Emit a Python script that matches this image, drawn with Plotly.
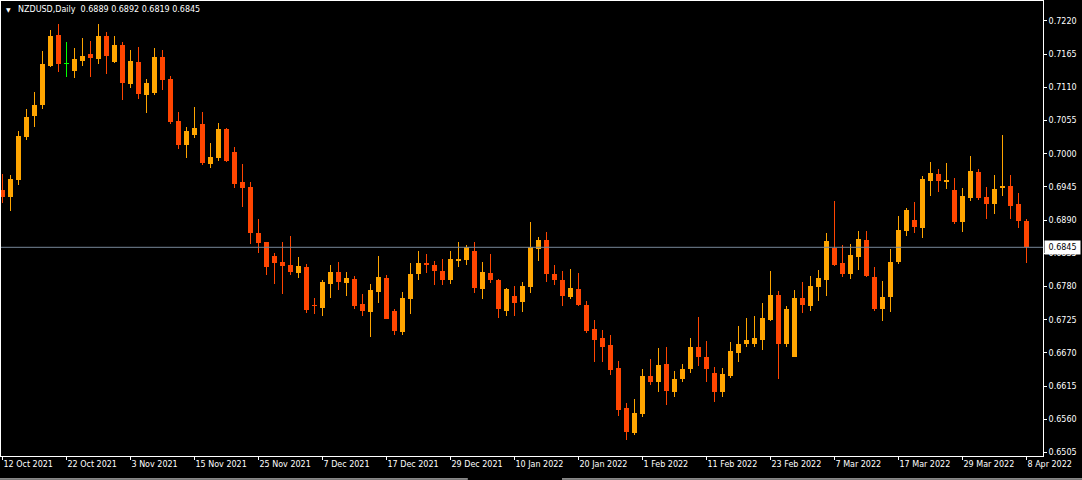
import pandas as pd
import plotly.graph_objects as go

# ---- data (NZDUSD daily) ----
dates = [d.strftime("%Y-%m-%d") for d in pd.bdate_range("2021-10-12", "2022-04-08")]

open_ = [0.6940, 0.6929, 0.6957, 0.7027, 0.7063, 0.7081, 0.7145, 0.7197, 0.7149, 0.7137,
         0.7154, 0.7166, 0.7157, 0.7195, 0.7152, 0.7180, 0.7116, 0.7152, 0.7097, 0.7101,
         0.7160, 0.7124, 0.7054, 0.7015, 0.7031, 0.7049, 0.6983, 0.6993, 0.7041, 0.7003,
         0.6953, 0.6945, 0.6869, 0.6854, 0.6831, 0.6821, 0.6816, 0.6802, 0.6812, 0.6750,
         0.6744, 0.6784, 0.6804, 0.6786, 0.6793, 0.6751, 0.6738, 0.6771, 0.6794, 0.6740,
         0.6705, 0.6760, 0.6800, 0.6819, 0.6816, 0.6806, 0.6791, 0.6823, 0.6824, 0.6839,
         0.6776, 0.6802, 0.6791, 0.6740, 0.6764, 0.6755, 0.6780, 0.6843, 0.6857, 0.6801,
         0.6791, 0.6763, 0.6776, 0.6749, 0.6710, 0.6695, 0.6683, 0.6645, 0.6579, 0.6538,
         0.6569, 0.6632, 0.6622, 0.6652, 0.6606, 0.6626, 0.6644, 0.6680, 0.6663, 0.6637,
         0.6606, 0.6632, 0.6670, 0.6684, 0.6685, 0.6692, 0.6725, 0.6766, 0.6685, 0.6663,
         0.6761, 0.6748, 0.6779, 0.6791, 0.6844, 0.6819, 0.6800, 0.6829, 0.6857, 0.6796,
         0.6742, 0.6763, 0.6820, 0.6872, 0.6890, 0.6877, 0.6955, 0.6967, 0.6954, 0.6940,
         0.6887, 0.6926, 0.6970, 0.6928, 0.6916, 0.6944, 0.6947, 0.6917, 0.6889]

high = [0.6967, 0.6965, 0.7038, 0.7074, 0.7103, 0.7170, 0.7205, 0.7215, 0.7185, 0.7175,
        0.7192, 0.7187, 0.7215, 0.7202, 0.7195, 0.7185, 0.7172, 0.7177, 0.7124, 0.7175,
        0.7172, 0.7129, 0.7069, 0.7044, 0.7078, 0.7069, 0.7018, 0.7051, 0.7043, 0.7011,
        0.6983, 0.6953, 0.6892, 0.6854, 0.6836, 0.6854, 0.6864, 0.6829, 0.6817, 0.6761,
        0.6791, 0.6816, 0.6821, 0.6804, 0.6798, 0.6768, 0.6784, 0.6831, 0.6799, 0.6743,
        0.6771, 0.6819, 0.6839, 0.6834, 0.6822, 0.6826, 0.6839, 0.6854, 0.6849, 0.6854,
        0.6821, 0.6834, 0.6793, 0.6778, 0.6781, 0.6788, 0.6887, 0.6862, 0.6870, 0.6816,
        0.6806, 0.6809, 0.6802, 0.6756, 0.6725, 0.6708, 0.6700, 0.6657, 0.6587, 0.6594,
        0.6643, 0.6660, 0.6678, 0.6680, 0.6640, 0.6652, 0.6695, 0.6730, 0.6690, 0.6647,
        0.6645, 0.6688, 0.6715, 0.6728, 0.6731, 0.6753, 0.6806, 0.6773, 0.6748, 0.6774,
        0.6788, 0.6798, 0.6807, 0.6869, 0.6922, 0.6849, 0.6850, 0.6872, 0.6872, 0.6812,
        0.6789, 0.6842, 0.6897, 0.6910, 0.6920, 0.6963, 0.6986, 0.6975, 0.6985, 0.6960,
        0.6943, 0.6996, 0.6975, 0.6945, 0.6965, 0.7031, 0.6965, 0.6935, 0.6892]

low = [0.6918, 0.6905, 0.6948, 0.7022, 0.7045, 0.7074, 0.7143, 0.7135, 0.7128, 0.7126,
       0.7146, 0.7127, 0.7148, 0.7132, 0.7151, 0.7089, 0.7109, 0.7091, 0.7068, 0.7097,
       0.7106, 0.7049, 0.7008, 0.6993, 0.7026, 0.6981, 0.6976, 0.6988, 0.6986, 0.6943,
       0.6912, 0.6850, 0.6836, 0.6799, 0.6784, 0.6768, 0.6799, 0.6794, 0.6736, 0.6735,
       0.6731, 0.6761, 0.6774, 0.6764, 0.6742, 0.6732, 0.6697, 0.6753, 0.6726, 0.6699,
       0.6699, 0.6735, 0.6791, 0.6803, 0.6783, 0.6783, 0.6785, 0.6813, 0.6816, 0.6770,
       0.6760, 0.6786, 0.6728, 0.6732, 0.6732, 0.6737, 0.6770, 0.6823, 0.6788, 0.6783,
       0.6748, 0.6760, 0.6747, 0.6703, 0.6655, 0.6655, 0.6634, 0.6566, 0.6526, 0.6534,
       0.6563, 0.6617, 0.6606, 0.6584, 0.6597, 0.6622, 0.6637, 0.6649, 0.6622, 0.6588,
       0.6597, 0.6629, 0.6655, 0.6680, 0.6679, 0.6675, 0.6723, 0.6627, 0.6680, 0.6663,
       0.6736, 0.6740, 0.6756, 0.6764, 0.6814, 0.6796, 0.6793, 0.6808, 0.6795, 0.6740,
       0.6723, 0.6737, 0.6818, 0.6863, 0.6869, 0.6861, 0.6930, 0.6936, 0.6941, 0.6884,
       0.6871, 0.6921, 0.6924, 0.6892, 0.6901, 0.6930, 0.6892, 0.6877, 0.6819]

close = [0.6928, 0.6958, 0.7030, 0.7061, 0.7081, 0.7149, 0.7195, 0.7149, 0.7149, 0.7157,
         0.7162, 0.7159, 0.7195, 0.7162, 0.7180, 0.7117, 0.7154, 0.7099, 0.7117, 0.7160,
         0.7122, 0.7053, 0.7015, 0.7038, 0.7043, 0.6985, 0.6995, 0.7041, 0.6988, 0.6950,
         0.6943, 0.6869, 0.6852, 0.6812, 0.6819, 0.6814, 0.6804, 0.6814, 0.6741, 0.6747,
         0.6788, 0.6804, 0.6788, 0.6794, 0.6748, 0.6740, 0.6774, 0.6796, 0.6727, 0.6707,
         0.6761, 0.6801, 0.6819, 0.6815, 0.6805, 0.6791, 0.6826, 0.6826, 0.6845, 0.6778,
         0.6804, 0.6790, 0.6742, 0.6776, 0.6753, 0.6781, 0.6845, 0.6857, 0.6800, 0.6791,
         0.6765, 0.6778, 0.6750, 0.6707, 0.6692, 0.6680, 0.6642, 0.6576, 0.6539, 0.6570,
         0.6632, 0.6622, 0.6650, 0.6607, 0.6627, 0.6643, 0.6680, 0.6664, 0.6644, 0.6606,
         0.6635, 0.6673, 0.6685, 0.6691, 0.6695, 0.6728, 0.6766, 0.6685, 0.6743, 0.6761,
         0.6749, 0.6781, 0.6794, 0.6855, 0.6816, 0.6800, 0.6832, 0.6859, 0.6798, 0.6742,
         0.6763, 0.6821, 0.6874, 0.6907, 0.6879, 0.6958, 0.6968, 0.6955, 0.6957, 0.6887,
         0.6930, 0.6971, 0.6926, 0.6916, 0.6942, 0.6947, 0.6914, 0.6889, 0.6845]

y_ticks = [0.6505, 0.6560, 0.6615, 0.6670, 0.6725, 0.6780, 0.6835,
           0.6890, 0.6945, 0.7000, 0.7055, 0.7110, 0.7165, 0.7220]
last_price = 0.6845
title_text = "NZDUSD,Daily  0.6889 0.6892 0.6819 0.6845"

# ---- styling ----
BULL = "#FFA500"
BEAR = "#FF4500"
DOJI = "#00FF00"
FONT = "DejaVu Sans"
MIN_BODY = 0.00017  # one pixel, so flat candles stay visible

groups = {BULL: [], BEAR: [], DOJI: []}
for i in range(len(dates)):
    if close[i] > open_[i]:
        groups[BULL].append(i)
    elif close[i] < open_[i]:
        groups[BEAR].append(i)
    else:
        groups[DOJI].append(i)

fig = go.Figure()
for color, idx in groups.items():
    if not idx:
        continue
    xs = [dates[i] for i in idx]
    fig.add_trace(go.Bar(
        x=xs, base=[low[i] for i in idx], y=[high[i] - low[i] for i in idx],
        width=0.125, marker=dict(color=color, line=dict(width=0), opacity=1),
        hoverinfo="skip"))
    fig.add_trace(go.Bar(
        x=xs, base=[min(open_[i], close[i]) for i in idx],
        y=[max(abs(close[i] - open_[i]), MIN_BODY) for i in idx],
        width=0.625, marker=dict(color=color, line=dict(width=0), opacity=1),
        hoverinfo="skip"))

tick_idx = list(range(0, len(dates), 8))
tick_vals = [dates[i] for i in tick_idx]
tick_text = []
for i in tick_idx:
    ts = pd.Timestamp(dates[i])
    tick_text.append(f"{ts.day} {ts.strftime('%b %Y')}")

fig.update_layout(
    width=1082, height=480,
    margin=dict(l=1, r=39, t=1, b=24, pad=0, autoexpand=False),
    paper_bgcolor="black", plot_bgcolor="black",
    showlegend=False, barmode="overlay", bargap=0,
    font=dict(family=FONT, size=8, color="white"),
    xaxis=dict(
        type="category", categoryorder="array", categoryarray=dates,
        range=[-0.1875, 130.0625], automargin=False,
        showline=True, linecolor="white", linewidth=1, mirror=True,
        ticks="outside", ticklen=3, tickwidth=1, tickcolor="white",
        tickvals=tick_vals, ticktext=tick_text,
        ticklabelposition="outside right",
        tickfont=dict(family=FONT, size=8, color="white"),
        showgrid=False, zeroline=False, fixedrange=True),
    yaxis=dict(
        side="right", range=[0.64992, 0.72531], automargin=False,
        tickvals=y_ticks, ticktext=[f"{v:.4f}" for v in y_ticks],
        showline=True, linecolor="white", linewidth=1, mirror=True,
        ticks="outside", ticklen=3, tickwidth=1, tickcolor="white",
        tickfont=dict(family=FONT, size=8, color="white"),
        showgrid=False, zeroline=False, fixedrange=True),
)

# last price line and label
fig.add_shape(type="line", xref="paper", yref="y", x0=0, x1=1,
              y0=last_price, y1=last_price, line=dict(color="#778899", width=1))
fig.add_annotation(xref="paper", yref="y", x=1, y=last_price, xanchor="left",
                   yanchor="middle", xshift=1, text=f"{last_price:.4f}",
                   showarrow=False, bgcolor="white", borderpad=1, width=33, height=11,
                   font=dict(family=FONT, size=8, color="black"))

# title
fig.add_annotation(xref="paper", yref="paper", x=0, y=1, xanchor="left", yanchor="top",
                   xshift=3, yshift=-3, text="▼", showarrow=False,
                   font=dict(family=FONT, size=6, color="white"))
fig.add_annotation(xref="paper", yref="paper", x=0, y=1, xanchor="left", yanchor="top",
                   xshift=15, yshift=-2, text=title_text, showarrow=False,
                   font=dict(family=FONT, size=8, color="white"))

# window frame line at the bottom
for x0, x1 in [(-0.001, 0.448), (0.5384, 1.04)]:
    fig.add_shape(type="line", xref="paper", yref="paper", x0=x0, x1=x1,
                  y0=-0.0505, y1=-0.0505, line=dict(color="white", width=1))

fig.write_html(
    "out.html",
    config={"displayModeBar": False, "staticPlot": True},
    post_script="document.body.style.margin='0';document.body.style.padding='0';"
                "document.body.style.background='black';",
)
